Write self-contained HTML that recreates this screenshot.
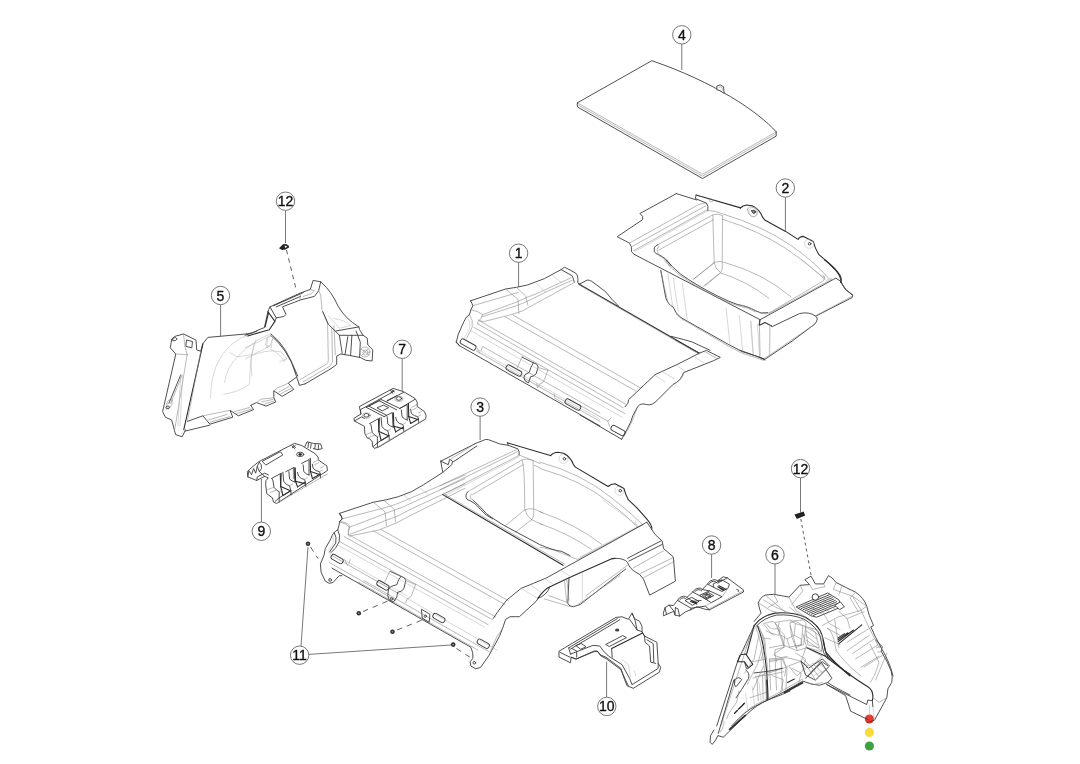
<!DOCTYPE html>
<html><head><meta charset="utf-8"><title>Diagram</title>
<style>
html,body{margin:0;padding:0;background:#fff;}
body{width:1080px;height:764px;overflow:hidden;font-family:"Liberation Sans",sans-serif;}
svg{display:block;}
.o{fill:none;stroke:#3c3c3c;stroke-width:0.9;stroke-linejoin:round;stroke-linecap:round;}
.of{fill:#fff;stroke:#3c3c3c;stroke-width:0.9;stroke-linejoin:round;stroke-linecap:round;}
.k{fill:none;stroke:#2c2c2c;stroke-width:1.1;stroke-linejoin:round;stroke-linecap:round;}
.i{fill:none;stroke:#8a8a8a;stroke-width:0.6;stroke-linejoin:round;stroke-linecap:round;}
.j{fill:none;stroke:#b0b0b0;stroke-width:0.5;stroke-linejoin:round;stroke-linecap:round;}
.b{fill:#222;stroke:#222;stroke-width:0.6;stroke-linejoin:round;}
.ld{fill:none;stroke:#555;stroke-width:0.8;}
.ds{fill:none;stroke:#444;stroke-width:0.85;stroke-dasharray:5.5 5;}
.lc{fill:#fff;stroke:#555;stroke-width:0.8;}
text{font-family:"Liberation Sans",sans-serif;font-size:14px;fill:#111;stroke:#111;stroke-width:0.35;text-anchor:middle;}
.tg{filter:url(#gs);}
</style></head><body>
<svg width="1080" height="764" viewBox="0 0 1080 764">
<defs><filter id="gs" x="-20%" y="-20%" width="140%" height="140%" color-interpolation-filters="sRGB"><feColorMatrix type="saturate" values="0"/></filter></defs>
<rect width="1080" height="764" fill="#fff"/>
<g>
<circle cx="869.4" cy="719" r="4.6" fill="#e8392f"/><circle cx="869.4" cy="732.4" r="4.6" fill="#f7dc3a"/><circle cx="869.4" cy="746" r="4.6" fill="#3fa142"/>
<path class="o" d="M 577.4 102.8 L 651.8 60.7 C 713.5 81.7 758.5 111.8 776.2 131.8"/>
<path class="i" d="M 577.4 102.8 L 702.5 174.2 L 776.2 131.8"/>
<path class="o" d="M 577.4 102.8 Q 576.7 105.1 577.7 107.1 L 702.5 178.5 L 776.2 136.1 L 776.2 131.8"/>
<path class="i" d="M 577.7 104.8 L 702.5 176.2 L 775.9 133.8"/>
<path class="of" d="M 716.8 89.4 L 716.8 86.1 Q 720.2 83.4 723.5 86.7 L 724.2 93.4 L 720.2 90.8 Z"/>
<path class="i" d="M 718.8 87.4 Q 720.5 86.1 722.2 87.7 L 722.2 90.1"/>
<path class="o" d="M 676.4 193.6 L 639.9 213.5 Q 644.0 216.2 642.6 219.7 L 617.2 236.7 L 629.4 243.1 Q 632.2 246.1 631.5 251.7 L 634.3 254.4"/>
<path class="o" d="M 676.4 193.6 L 696.8 200.0"/>
<path class="k" d="M 696.1 195.0 L 740.6 207.9"/>
<path class="o" d="M 696.1 195.0 L 695.4 198.6 L 706.5 203.1 Q 708.6 205.8 707.9 210.7"/>
<path class="i" d="M 629.4 243.1 L 698.9 204.4 L 705.8 203.1"/>
<path class="i" d="M 631.5 246.8 L 705.8 205.8"/>
<path class="i" d="M 633.9 250.6 L 707.2 209.7"/>
<path class="j" d="M 634.7 251.7 L 707.6 210.8"/>
<path class="i" d="M 657.9 244.7 L 712.8 214.9 Q 716.9 212.8 722.5 215.6"/>
<path class="i" d="M 658.9 250.0 L 713.5 219.7"/>
<path class="o" d="M 657.9 244.7 Q 653.1 246.1 654.4 251.7 Q 655.8 254.4 658.6 254.4 Q 665.6 257.2 671.1 265.6"/>
<path class="i" d="M 658.6 246.1 Q 655.8 248.9 657.9 253.1"/>
<path class="i" d="M 658.6 255.6 Q 665.6 258.6 669.7 266.2"/>
<path class="i" d="M 712.8 214.9 L 714.2 262.8 Q 715.6 269.7 720.4 272.5"/>
<path class="i" d="M 722.5 216.2 L 722.2 268.3 Q 721.8 271.8 720.4 272.5"/>
<path class="i" d="M 714.2 262.8 L 693.3 279.4"/>
<path class="i" d="M 720.4 272.8 L 703.1 286.4"/>
<path class="i" d="M 709.3 198.9 Q 711.4 198.2 713.5 200.3 Q 712.8 202.4 710.7 201.9 Z"/>
<path class="i" d="M 747.5 209.3 Q 748.9 205.8 753.1 207.2 Q 757.2 210.0 756.9 214.9 Q 754.4 218.3 751.0 216.2 Q 748.2 213.5 747.5 209.3 Z"/>
<path class="o" d="M 751.7 210.7 Q 753.8 209.3 755.6 211.4 Q 755.1 213.5 753.1 213.2 Q 751.7 212.4 751.7 210.7 Z"/>
<path class="k" d="M 740.4 208.2 Q 742.5 205.4 746.7 205.0 L 752.2 205.8 Q 759.2 208.9 762.6 217.2 L 764.7 220.0 L 785.6 231.4 L 798.1 239.4 Q 799.4 236.7 803.6 236.4 L 813.3 241.5 Q 814.7 247.8 818.9 254.7 L 827.2 261.7 L 835.6 270.0 Q 841.1 276.9 841.1 282.5"/>
<path class="o" d="M 841.1 282.5 L 845.3 289.4 L 852.9 295.0"/>
<path class="j" d="M 825.8 274.2 Q 823.1 278.3 825.8 280.4 L 831.4 278.3"/>
<circle class="j" cx="753.4" cy="211.9" r="4.6"/><circle class="o" cx="754" cy="212" r="1.3"/>
<circle class="j" cx="809.2" cy="243.7" r="4.6"/><circle class="o" cx="809.6" cy="243.8" r="1.3"/>
<path class="o" d="M 634.3 254.4 L 760.1 319.7 L 759.4 325.3 L 765.0 322.5 L 771.9 326.4"/>
<path class="o" d="M 666.4 260.0 Q 671.9 266.9 680.3 273.9 Q 695.6 285.0 717.8 296.1 Q 728.9 301.7 737.2 304.4 Q 748.3 306.5 755.3 310.7 Q 760.8 314.2 767.8 312.8"/>
<path class="i" d="M 665.0 261.1 Q 671.2 268.3 679.6 275.0 Q 695.6 286.4 717.8 297.5 Q 728.9 302.8 737.2 305.6 Q 748.3 307.6 755.3 311.8"/>
<path class="o" d="M 660.8 270.4 L 665.7 297.5 Q 667.8 304.4 673.3 307.2 L 676.1 312.8 Q 680.3 318.3 687.2 321.1 L 728.9 344.7 Q 742.8 353.1 755.3 355.8 L 764.3 359.3"/>
<path class="i" d="M 676.1 314.2 Q 681.7 320.0 688.6 322.8 L 728.9 346.4 Q 742.8 354.7 755.3 357.5 L 763.6 360.4"/>
<path class="i" d="M 660.8 270.4 Q 663.6 285.0 667.8 301.7"/>
<path class="j" d="M 667.8 273.9 L 672.6 305.8"/>
<path class="j" d="M 673.3 278.1 L 678.2 311.4"/>
<path class="j" d="M 682.4 283.6 L 687.2 319.7"/>
<path class="j" d="M 726.1 307.9 L 730.0 345.0"/>
<path class="j" d="M 739.3 315.6 L 742.8 352.4"/>
<path class="j" d="M 750.4 321.1 L 753.2 355.1"/>
<path class="j" d="M 757.4 324.6 L 759.7 357.2"/>
<path class="j" d="M 769.9 325.3 L 769.2 355.8"/>
<path class="o" d="M 760.1 319.7 L 835.8 278.1 L 840.0 280.8 Q 842.8 285.0 845.6 289.2 L 852.5 295.4 L 852.2 297.5 L 815.7 316.2 Q 809.4 311.4 799.7 313.5 L 772.6 326.4 L 765.0 322.5 L 759.4 325.3 Z"/>
<path class="i" d="M 851.9 296.4 L 816.4 315.3"/>
<path class="i" d="M 769.2 313.5 L 831.7 279.2"/>
<path class="k" d="M 824.7 260.0 Q 834.4 266.9 840.0 275.3 Q 842.1 279.4 840.7 282.2"/>
<path class="o" d="M 815.7 316.2 Q 819.2 318.3 815.0 323.9 L 792.8 340.6 L 765.0 359.3 L 759.4 357.2"/>
<path class="i" d="M 813.6 325.0 L 765.0 358.2"/>
<path class="i" d="M 759.4 325.3 L 760.1 355.8"/>
<path class="j" d="M 769.9 325.3 L 769.9 355.8"/>
<path class="j" d="M 751.1 321.1 L 753.2 353.1"/>
<path class="o" d="M 740.0 350.3 L 759.4 357.2 L 765.0 360.0"/>
<path class="i" d="M 740.0 305.1 Q 751.1 307.2 758.1 312.1 Q 765.0 315.6 771.9 311.4 L 823.3 280.8 Q 826.1 278.1 823.3 275.3"/>
<path class="j" d="M 801.1 260.0 L 824.7 278.1"/>
<path class="i" d="M 707.8 210.6 Q 716.1 210.6 721.7 213.6 Q 763.3 226.1 791.1 245.6 Q 811.9 259.4 829.3 278.9"/>
<path class="i" d="M 722.4 219.2 Q 757.8 230.3 785.6 248.3 Q 805.0 260.8 824.4 278.9"/>
<path class="i" d="M 714.7 262.2 Q 720.3 260.1 725.8 262.9 Q 763.3 273.3 791.1 296.9"/>
<path class="i" d="M 721.0 273.1 Q 746.7 281.0 768.9 298.3"/>
<path class="i" d="M 714.7 262.2 L 693.9 278.9"/>
<path class="i" d="M 720.3 273.1 L 705.0 285.8"/>
<path class="o" d="M 470.6 300.8 L 505.6 289.0 Q 516.7 287.6 527.8 284.9 Q 544.4 280.0 561.1 269.6 L 564.6 267.2 L 575.7 273.1 Q 578.5 275.8 577.8 282.8 L 579.9 284.2"/>
<path class="o" d="M 470.6 300.8 Q 472.2 303.6 472.9 305.7 L 470.8 309.9 L 469.4 314.7 Q 466.0 316.1 463.9 321.7 L 458.3 334.2 L 456.2 342.5 L 459.7 346.0"/>
<path class="i" d="M 472.9 305.7 L 518.1 292.5"/>
<path class="i" d="M 505.6 289.0 L 518.1 299.4 L 518.8 313.3"/>
<path class="i" d="M 516.7 287.6 L 525.7 296.0 L 527.8 305.0"/>
<path class="i" d="M 470.8 309.9 Q 477.8 310.6 482.6 314.7 L 518.1 301.5 Q 527.8 296.7 536.1 293.9 L 570.8 277.9"/>
<path class="i" d="M 482.6 314.7 Q 481.2 318.9 479.2 320.3 L 483.3 321.7 L 505.6 316.1 L 513.2 314.0 Q 522.2 311.9 530.6 306.4 L 573.6 282.8"/>
<path class="i" d="M 481.9 316.8 L 516.7 305.7 Q 527.8 301.5 547.2 291.4 L 572.2 280.3"/>
<path class="i" d="M 479.2 320.3 Q 476.4 321.7 477.8 324.4"/>
<path class="o" d="M 561.1 269.6 L 572.2 275.8 Q 573.6 279.3 574.3 282.1"/>
<path class="j" d="M 536.1 282.8 L 545.8 292.5"/>
<path class="j" d="M 552.8 275.8 L 561.1 282.1"/>
<path class="i" d="M 469.4 314.7 Q 473.6 320.3 472.2 327.2 Q 469.4 332.8 466.7 338.3"/>
<path class="j" d="M 467.4 317.5 Q 470.8 321.7 469.4 328.6 L 463.9 338.3"/>
<path class="k" d="M 578.8 283.9 L 698.9 353.0"/>
<path class="i" d="M 579.4 285.1 L 698.2 353.7"/>
<path class="o" d="M 579.4 284.2 L 587.1 280.1 Q 589.2 279.8 591.9 281.4 L 605.8 291.9 Q 611.4 299.5 618.3 305.8"/>
<path class="o" d="M 671.1 336.3 Q 685.0 339.8 691.9 341.9 L 710.0 350.2"/>
<path class="o" d="M 675.8 340.0 L 699.4 353.2 L 706.4 350.4 L 720.3 357.4 L 713.3 360.8 L 683.5 372.6 Q 681.4 380.3 673.1 384.4 L 657.8 399.7 Q 652.2 406.0 646.7 404.6 Q 641.1 402.5 637.6 406.7 L 632.8 415.7 Q 631.4 421.9 627.2 428.9 L 621.7 439.3"/>
<path class="o" d="M 699.4 353.2 Q 677.2 365.0 655.0 374.7 L 628.6 399.7 L 627.9 403.2 L 625.1 406.7"/>
<path class="i" d="M 705.0 351.8 L 716.8 358.3"/>
<path class="j" d="M 655.0 375.4 L 664.7 381.7"/>
<path class="j" d="M 661.9 371.2 L 674.4 378.9"/>
<path class="j" d="M 677.2 365.7 L 685.6 371.9"/>
<path class="j" d="M 695.3 357.4 L 703.6 362.9"/>
<path class="i" d="M 673.1 384.4 Q 680.0 381.7 683.5 374.7"/>
<path class="i" d="M 637.6 406.7 Q 635.6 412.2 633.5 417.8 Q 630.0 426.1 624.4 435.8"/>
<path class="i" d="M 580.0 405.3 L 607.8 421.2 L 609.9 426.8"/>
<path class="i" d="M 607.8 421.2 L 611.2 417.8"/>
<path class="o" d="M 456.2 341.9 L 459.7 345.8 L 600.0 426.0"/>
<path class="i" d="M 476.4 351.0 L 600.0 421.4"/>
<path class="j" d="M 477.8 349.6 L 600.0 419.3"/>
<path class="i" d="M 483.3 346.8 L 600.0 413.1"/>
<path class="o" d="M 580.0 415.0 L 621.7 439.3"/>
<rect class="o" x="-8.5" y="-2.7" width="17" height="5.4" rx="2.3" transform="translate(468.1,344.6) rotate(29)"/>
<rect class="o" x="-8.5" y="-2.7" width="17" height="5.4" rx="2.3" transform="translate(513.9,370.6) rotate(29)"/>
<rect class="o" x="-8.5" y="-2.7" width="17" height="5.4" rx="2.3" transform="translate(572.9,404.6) rotate(29)"/>
<rect class="o" x="-7.5" y="-2.7" width="15" height="5.4" rx="2.3" transform="translate(618,430.5) rotate(29)"/>
<path class="i" d="M 522.2 356.5 L 517.4 367.6"/>
<path class="o" d="M 522.2 357.2 L 533.3 362.8 Q 537.5 363.5 538.2 366.9 L 536.1 373.9 Q 533.3 376.7 530.6 376.7 L 528.5 382.9 L 525.0 380.8 Q 522.9 376.7 525.0 374.6 L 529.2 372.5 Q 530.6 366.9 533.3 362.8"/>
<path class="i" d="M 547.9 370.4 L 543.8 380.8 Q 543.1 383.6 540.3 383.6 L 537.5 387.8 L 536.8 383.6"/>
<path class="i" d="M 538.2 367.6 L 547.9 370.4"/>
<path class="i" d="M 477.1 348.2 L 479.9 353.1 M 482.6 346.8 L 481.2 350.3"/>
<path class="i" d="M 554.2 394.0 L 554.9 398.2 L 563.2 403.1"/>
<path class="i" d="M 512.9 315.0 L 640.0 387.6"/>
<path class="i" d="M 505.3 316.9 L 635.8 391.1"/>
<path class="i" d="M 478.0 320.0 L 626.1 404.3"/>
<path class="i" d="M 478.0 324.0 L 623.3 407.8"/>
<path class="i" d="M 474.0 327.4 L 625.0 413.7"/>
<path class="j" d="M 470.0 330.3 L 622.0 417.2"/>
<path class="o" d="M 171.7 339.4 Q 173.1 336.0 180.0 335.0 L 183.5 333.9 L 196.0 340.1 L 196.7 349.9 L 200.8 351.2 L 202.9 343.6 L 207.8 337.4 L 246.7 333.9"/>
<path class="o" d="M 171.7 339.4 L 170.3 347.8 L 175.8 354.0 L 162.6 411.7 L 165.4 417.2 L 171.7 420.0 L 175.6 434.6 L 182.2 436.8 L 185.6 429.7"/>
<path class="o" d="M 186.9 340.1 L 192.5 341.5 L 191.8 347.8 L 186.2 346.4 Z"/>
<path class="i" d="M 183.5 333.9 L 184.9 346.4 L 187.2 354.7"/>
<path class="i" d="M 175.8 354.0 L 187.2 354.7"/>
<path class="k" d="M 202.9 343.9 L 183.8 429.7"/>
<path class="i" d="M 200.8 351.2 L 187.6 420.0"/>
<path class="i" d="M 187.2 354.7 L 174.4 431.1"/>
<path class="o" d="M 180.7 374.9 L 168.9 403.3"/>
<path class="i" d="M 182.1 375.3 L 170.6 403.3"/>
<path class="j" d="M 180.7 374.9 L 177.9 426.0"/>
<path class="j" d="M 182.8 375.3 L 180.0 426.0"/>
<path class="o" d="M 173.1 338.1 Q 175.8 336.7 177.2 338.8 Q 175.8 341.5 173.1 340.8 Z"/>
<path class="i" d="M 166.8 403.3 Q 168.9 397.8 172.4 399.9 Q 173.1 404.7 168.9 408.9 Q 166.1 408.9 166.8 403.3"/>
<path class="o" d="M 166.1 406.8 Q 168.2 404.7 169.6 406.8 Q 168.9 409.6 166.8 408.9 Z"/>
<path class="o" d="M 185.1 431.1 L 209.9 425.1"/>
<path class="o" d="M 187.4 421.4 L 202.9 415.8 L 209.9 424.2 L 232.8 417.2 L 230.0 410.3 L 238.3 415.8 L 253.6 409.6 L 250.8 405.4"/>
<path class="i" d="M 202.9 415.8 L 209.9 414.4 L 230.0 410.3"/>
<path class="i" d="M 208.5 420.0 L 227.2 414.4 M 210.6 422.1 L 230.0 416.5 M 234.2 411.7 L 249.4 407.5 M 236.2 413.8 L 251.5 408.9"/>
<path class="o" d="M 250.8 405.4 L 256.4 402.6 L 266.1 406.1 L 275.8 401.9 L 273.8 397.8 L 273.8 390.8 L 282.1 396.4 L 293.9 389.4 L 288.3 383.2 L 296.7 376.9"/>
<path class="i" d="M 256.4 402.6 L 260.6 399.2 L 273.8 397.8 M 273.8 390.8 L 277.2 388.1 L 288.3 383.2"/>
<path class="i" d="M 261.9 401.9 L 273.1 399.4 M 264.7 404.0 L 274.4 400.8 M 278.6 392.2 L 289.0 386.4 M 280.0 394.3 L 291.1 388.3"/>
<path class="o" d="M 295.3 372.8 L 299.4 385.3 L 305.0 383.9"/>
<path class="i" d="M 296.7 376.9 L 300.1 386.0"/>
<path class="o" d="M 271.0 333.9 Q 288.3 347.8 295.3 372.8"/>
<path class="j" d="M 210.6 397.8 Q 210.6 361.7 232.8 343.6 Q 241.1 336.7 248.1 335.3"/>
<path class="j" d="M 224.4 382.5 Q 227.2 365.8 238.3 356.1 Q 252.2 340.8 270.3 333.9"/>
<path class="j" d="M 223.8 394.3 Q 238.3 392.2 249.4 384.6 L 250.8 358.9 L 255.0 342.9"/>
<path class="j" d="M 230.0 352.6 L 236.9 356.8 L 252.2 354.7 Q 263.3 350.6 270.3 345.0"/>
<path class="j" d="M 267.5 338.1 L 266.8 347.8 L 270.3 345.0 L 272.4 339.4"/>
<path class="j" d="M 270.3 349.2 Q 280.0 353.3 284.2 361.7 L 287.6 357.5"/>
<path class="o" d="M 245.0 335.3 Q 251.9 333.9 258.9 329.7 L 264.4 327.6 L 267.9 311.7 L 270.0 306.8 L 300.6 292.9 L 310.3 289.4 L 313.1 280.4 L 320.7 281.8 L 322.1 283.2 Q 331.1 290.8 338.1 306.1 Q 345.0 318.6 358.9 326.9 L 359.6 329.7 L 363.1 335.3 L 367.2 338.1 L 367.9 345.0 L 372.8 349.9 L 372.1 361.0 L 365.8 360.3 L 360.3 357.5 L 349.2 355.4 L 340.8 354.0 L 336.7 356.1 L 336.7 364.4 L 331.1 368.6 L 305.0 383.9"/>
<path class="o" d="M 246.7 333.9 L 252.2 332.8 L 256.8 331.1"/>
<path class="k" d="M 247.8 336.0 Q 258.9 332.5 269.3 329.7 L 274.9 321.4 L 267.9 311.7"/>
<path class="o" d="M 270.0 306.8 L 276.2 317.9 L 283.9 316.5 L 286.0 314.4 L 282.5 306.8 L 300.6 299.9 L 314.4 296.4 L 318.6 290.8 L 320.7 281.8"/>
<path class="o" d="M 276.2 317.9 L 274.9 321.4"/>
<path class="o" d="M 273.5 305.8 L 303.3 292.6 M 276.2 306.9 L 300.6 296.4"/>
<path class="i" d="M 300.6 292.9 L 299.9 299.9 M 310.3 289.4 L 314.4 290.8 L 311.7 293.6 L 303.3 296.4"/>
<path class="k" d="M 265.1 326.9 L 268.6 312.4"/>
<path class="i" d="M 318.6 290.8 L 320.7 295.0 L 322.1 310.3 L 327.6 323.5 L 328.3 360.3 Q 328.3 363.1 326.2 364.4 L 299.9 379.7"/>
<path class="i" d="M 331.8 328.3 L 332.5 361.7 L 330.4 365.8 L 303.3 381.8"/>
<path class="i" d="M 333.9 325.6 L 335.3 354.7"/>
<path class="o" d="M 322.8 311.7 L 328.3 324.2 L 335.3 331.1 L 358.9 326.9"/>
<path class="o" d="M 335.3 331.1 L 339.4 335.3 L 363.1 335.3"/>
<path class="o" d="M 339.4 335.3 L 342.2 353.3 M 347.8 336.7 L 345.0 354.7 M 351.9 335.3 L 350.6 355.4"/>
<path class="j" d="M 328.3 315.8 L 339.4 328.3 L 350.6 325.6 Q 345.0 320.0 333.9 318.6"/>
<path class="o" d="M 356.1 331.1 L 360.3 342.2 L 359.6 357.5"/>
<circle class="i" cx="365" cy="352" r="5"/><circle class="i" cx="365.5" cy="352.5" r="2.6"/><path class="i" d="M361,349 L369,355 M362,355 L368,349"/>
<path class="o" d="M 270.7 335.3 Q 286.7 347.8 297.8 376.0"/>
<path class="j" d="M 267.2 338.1 L 272.8 335.3 L 271.4 347.8 L 265.8 345.0 Z"/>
<path class="j" d="M 245.0 347.8 Q 258.9 342.2 270.7 335.3 M 245.0 358.9 Q 265.8 347.8 281.1 351.9 L 286.7 358.9 L 279.7 361.7"/>
<path class="j" d="M 251.9 376.0 Q 249.2 353.3 256.1 339.4"/>
<path class="o" d="M 359.7 406.4 L 393.1 388.4 L 403.6 391.7 L 415.1 398.5 L 417.2 402.2 L 417.2 406.4 L 424.5 411.6 L 426.1 415.8 L 425.6 419.0 L 378.5 447.2 L 374.3 448.3 L 372.4 446.2 L 372.4 442.0 Q 370.1 437.8 367.0 437.8 L 364.9 433.6 L 364.4 426.3 L 354.4 421.0 L 353.9 418.4 L 360.7 414.2 Z"/>
<path class="o" d="M 360.7 414.2 L 360.7 409.5 L 394.2 391.2"/>
<path class="o" d="M 386.9 401.2 L 403.6 392.3"/>
<path class="o" d="M 390.5 390.2 L 392.6 393.3 M 391.6 389.7 L 394.2 391.7 M 391.0 392.3 L 393.7 390.5"/>
<path class="o" d="M 354.4 421.0 L 361.7 416.9 L 364.4 418.4"/>
<path class="o" d="M 366.2 407.3 L 384.1 416.6 M 368.8 406.2 L 386.3 415.1"/>
<path class="o" d="M 381.1 399.5 L 399.8 408.4 M 379.6 401.0 L 396.8 409.9"/>
<path class="o" d="M 366.2 407.3 L 379.6 400.6 M 368.8 406.2 L 381.1 399.5"/>
<path class="o" d="M 377.4 407.7 L 383.4 405.1 L 388.6 407.7 L 382.6 410.7 Z"/>
<path class="o" d="M 387.1 400.6 L 396.8 395.7 M 399.8 408.4 L 408.7 403.2 L 414.7 399.5"/>
<ellipse class="o" cx="366.5" cy="415.3" rx="2.6" ry="1.8"/><ellipse class="i" cx="366.5" cy="415.6" rx="4" ry="2.8"/>
<ellipse class="o" cx="398.9" cy="398.5" rx="2.6" ry="1.8"/><ellipse class="i" cx="398.9" cy="398.8" rx="4" ry="2.8"/>
<path class="o" d="M 369.9 423.4 L 379.6 418.1 L 378.9 431.6"/>
<path class="o" d="M 369.9 423.4 L 371.0 424.9 L 372.2 432.3 Q 374.4 435.3 377.4 436.8 L 377.4 442.8"/>
<path class="k" d="M 378.5 419.6 L 378.9 431.6 L 381.1 440.5"/>
<path class="k" d="M 378.9 431.6 L 388.6 435.7 M 381.1 440.5 L 389.0 435.7"/>
<path class="o" d="M 381.1 417.4 L 381.9 426.3 Q 384.1 430.1 387.8 430.8 L 389.0 435.7"/>
<path class="o" d="M 384.1 416.6 L 392.3 412.5 L 393.1 427.1"/>
<path class="o" d="M 387.1 416.6 L 387.8 424.1 Q 390.1 426.3 393.1 427.1"/>
<path class="k" d="M 393.4 412.9 L 393.8 426.3 L 395.7 431.9"/>
<path class="k" d="M 393.8 426.3 L 402.8 428.6 M 395.7 431.9 L 403.5 427.1"/>
<path class="o" d="M 395.7 417.4 L 396.8 421.1 Q 399.0 424.1 402.8 424.5 L 403.5 427.1"/>
<path class="o" d="M 399.8 408.4 L 407.2 404.7 L 407.2 420.0"/>
<path class="o" d="M 401.3 409.9 L 402.0 416.6 Q 404.3 419.6 407.2 420.0"/>
<path class="k" d="M 408.4 403.2 L 408.7 416.6 L 410.6 423.4"/>
<path class="k" d="M 408.7 416.6 L 417.7 419.6 M 410.6 423.4 L 418.4 418.9"/>
<path class="o" d="M 410.6 409.2 L 411.3 413.3 Q 414.0 416.3 417.7 416.6 L 418.4 418.9"/>
<path class="o" d="M 373.3 446.5 L 377.4 442.8 L 377.4 447.2"/>
<path class="o" d="M 377.4 442.8 L 389.0 435.7 M 389.0 435.7 L 389.3 439.8 M 403.5 427.1 L 403.9 431.6 M 418.4 418.9 L 418.8 423.0"/>
<path class="i" d="M 377.4 436.8 L 381.1 434.6 M 387.8 430.8 L 390.8 429.0 M 402.8 424.5 L 405.7 422.6 M 417.7 416.6 L 420.7 415.0"/>
<path class="i" d="M 365.4 434.6 L 372.2 432.3 M 368.4 437.5 L 374.4 435.3"/>
<path class="i" d="M 416.9 404.7 L 411.7 407.3 M 416.9 407.7 L 412.5 409.9 M 422.2 411.0 L 418.4 413.3"/>
<path class="i" d="M 377.4 447.2 L 425.5 418.9"/>
<path class="o" d="M 258.8 461.7 L 294.4 443.4 L 301.7 445.5 L 315.3 453.8 L 318.0 457.0 L 318.5 460.1 L 326.9 465.9 L 327.4 470.6 L 276.6 503.5 L 273.5 502.0 L 272.4 497.8 L 266.7 493.6 L 265.6 484.2 Q 265.1 480.0 268.3 477.9 L 264.6 476.3 L 256.7 480.5 L 247.8 476.9 L 247.3 471.6 L 249.4 469.5 Z"/>
<path class="o" d="M 304.9 446.5 L 307.0 441.8 L 313.3 443.4 L 320.6 443.9 L 322.2 448.6 L 318.0 449.7 L 313.3 448.6"/>
<path class="o" d="M 308.5 442.8 L 308.0 447.6 M 311.2 443.9 L 310.6 448.1 M 315.3 444.4 L 314.8 448.6 M 318.5 444.9 L 318.3 448.6"/>
<path class="o" d="M 262.5 461.2 L 280.3 451.7 L 282.9 454.9 L 266.2 464.8 Z"/>
<ellipse class="o" cx="300.2" cy="454.4" rx="3.6" ry="2.2"/><ellipse class="b" cx="300.2" cy="454.4" rx="1.6" ry="1"/>
<path class="o" d="M 247.8 476.9 L 248.9 470.6 L 251.5 474.8 L 253.6 468.5 L 255.7 473.2 L 257.3 466.4 L 259.4 471.6"/>
<path class="o" d="M 259.4 462.2 Q 262.0 464.3 261.5 468.5 L 259.4 471.6 L 264.6 476.3"/>
<path class="o" d="M 257.3 466.4 Q 258.3 463.3 259.4 462.2"/>
<path class="o" d="M 256.7 480.5 L 257.3 476.9 L 264.6 473.2 L 268.3 474.8"/>
<path d="M 292.8 467.4 L 294.9 467.4 L 294.9 479.0 L 292.8 479.0 Z" fill="#aaa" stroke="none"/>
<path class="o" d="M 291.8 446.0 L 294.9 448.6 M 292.8 444.9 L 295.5 447.6 M 292.3 447.8 L 295.3 445.5"/>
<path class="o" d="M 271.7 478.4 L 281.4 473.1 L 280.7 486.6"/>
<path class="o" d="M 271.7 478.4 L 272.8 479.9 L 274.0 487.3 Q 276.2 490.3 279.2 491.8 L 279.2 497.8"/>
<path class="k" d="M 280.3 474.6 L 280.7 486.6 L 282.9 495.5"/>
<path class="k" d="M 280.7 486.6 L 290.4 490.7 M 282.9 495.5 L 290.8 490.7"/>
<path class="o" d="M 282.9 472.4 L 283.7 481.3 Q 285.9 485.1 289.6 485.8 L 290.8 490.7"/>
<path class="o" d="M 285.9 471.6 L 294.1 467.5 L 294.9 482.1"/>
<path class="o" d="M 288.9 471.6 L 289.6 479.1 Q 291.9 481.3 294.9 482.1"/>
<path class="k" d="M 295.2 467.9 L 295.6 481.3 L 297.5 486.9"/>
<path class="k" d="M 295.6 481.3 L 304.6 483.6 M 297.5 486.9 L 305.3 482.1"/>
<path class="o" d="M 297.5 472.4 L 298.6 476.1 Q 300.8 479.1 304.6 479.5 L 305.3 482.1"/>
<path class="o" d="M 301.6 463.4 L 309.0 459.7 L 309.0 475.0"/>
<path class="o" d="M 303.1 464.9 L 303.8 471.6 Q 306.1 474.6 309.0 475.0"/>
<path class="k" d="M 310.2 458.2 L 310.5 471.6 L 312.4 478.4"/>
<path class="k" d="M 310.5 471.6 L 319.5 474.6 M 312.4 478.4 L 320.2 473.9"/>
<path class="o" d="M 312.4 464.2 L 313.1 468.3 Q 315.8 471.3 319.5 471.6 L 320.2 473.9"/>
<path class="o" d="M 275.1 501.5 L 279.2 497.8 L 279.2 502.2"/>
<path class="o" d="M 279.2 497.8 L 290.8 490.7 M 290.8 490.7 L 291.1 494.8 M 305.3 482.1 L 305.7 486.6 M 320.2 473.9 L 320.6 478.0"/>
<path class="i" d="M 279.2 491.8 L 282.9 489.6 M 289.6 485.8 L 292.6 484.0 M 304.6 479.5 L 307.5 477.6 M 319.5 471.6 L 322.5 470.0"/>
<path class="i" d="M 267.2 489.6 L 274.0 487.3 M 270.2 492.5 L 276.2 490.3"/>
<path class="i" d="M 318.7 459.7 L 313.5 462.3 M 318.7 462.7 L 314.3 464.9 M 324.0 466.0 L 320.2 468.3"/>
<path class="i" d="M 279.2 502.2 L 327.3 473.9"/>
<path class="o" d="M 339.7 513.3 L 373.3 502.2 Q 387.2 500.1 398.3 496.7 Q 412.2 492.5 423.3 484.9 L 442.8 472.4 L 440.7 461.2"/>
<path class="o" d="M 440.7 461.2 L 448.3 464.7 L 449.7 459.2 L 452.5 461.2 L 451.8 464.7 L 442.8 472.4"/>
<path class="o" d="M 339.7 513.3 Q 342.1 516.1 342.1 518.9 L 339.3 521.7"/>
<path class="i" d="M 342.1 518.9 L 384.4 507.8 Q 392.8 505.7 401.1 502.2 L 465.0 475.1"/>
<path class="i" d="M 339.3 521.7 Q 345.6 523.1 349.7 527.2 L 385.8 513.3 Q 392.8 510.6 401.1 507.8 L 465.0 478.6"/>
<path class="i" d="M 349.7 527.2 Q 347.6 532.8 349.0 536.2 L 378.9 530.0 Q 398.3 523.1 412.2 514.7 L 465.0 488.3"/>
<path class="i" d="M 350.4 534.2 L 384.4 521.0 Q 398.3 516.8 409.4 509.9 L 465.0 483.9"/>
<path class="i" d="M 373.3 502.2 L 385.1 511.9 L 386.5 525.8"/>
<path class="i" d="M 384.4 500.8 L 394.2 509.2 L 395.6 521.7"/>
<path class="j" d="M 403.9 495.3 L 410.8 500.8 M 419.2 487.6 L 427.5 493.9"/>
<path class="o" d="M 440.7 461.2 L 476.1 443.2 L 485.8 439.4 L 488.6 439.7 L 499.7 443.9 L 508.1 445.3"/>
<path class="o" d="M 453.2 461.9 L 476.8 446.0"/>
<path class="i" d="M 449.7 459.9 L 474.7 443.9"/>
<path class="k" d="M 507.4 442.8 L 551.1 455.7"/>
<path class="o" d="M 507.4 442.8 L 508.1 445.3 L 517.8 448.8 Q 519.9 451.5 519.2 455.0"/>
<path class="i" d="M 440.0 485.6 L 517.1 449.4"/>
<path class="i" d="M 440.0 489.7 L 517.8 451.5"/>
<path class="i" d="M 442.8 494.6 L 518.5 455.7"/>
<path class="j" d="M 444.9 495.6 L 518.9 456.9"/>
<path class="i" d="M 467.8 491.8 L 521.9 459.9 Q 526.1 457.8 533.1 460.6"/>
<path class="i" d="M 472.6 494.6 L 523.3 464.7"/>
<path class="o" d="M 467.8 491.8 Q 464.3 495.3 467.1 499.4 Q 474.7 502.2 480.3 509.2 Q 485.8 516.1 492.8 518.9"/>
<path class="i" d="M 471.2 493.9 Q 469.2 496.7 471.2 499.4"/>
<path class="i" d="M 521.9 459.9 Q 524.7 463.3 524.7 507.8 Q 526.1 516.1 531.7 519.6"/>
<path class="i" d="M 533.1 460.6 L 533.8 513.3 Q 533.1 518.9 531.7 519.6"/>
<path class="i" d="M 524.7 509.9 Q 528.9 507.8 534.4 509.2 L 542.8 512.8"/>
<path class="i" d="M 531.7 519.6 L 542.8 525.0"/>
<path class="i" d="M 524.7 509.9 L 505.3 525.8"/>
<path class="i" d="M 531.7 519.6 L 515.7 532.1"/>
<path class="i" d="M 519.2 455.0 L 533.1 460.6 L 540.0 463.6"/>
<path class="i" d="M 534.4 465.4 L 540.0 467.8"/>
<circle class="j" cx="563.6" cy="458.8" r="4.6"/><circle class="o" cx="564.4" cy="458.8" r="1.3"/>
<circle class="j" cx="619.6" cy="490.6" r="4.6"/><circle class="o" cx="620.3" cy="490.7" r="1.3"/>
<path class="k" d="M 551.1 455.0 Q 553.2 452.5 558.1 452.2 L 563.6 453.2 Q 570.6 456.7 573.3 464.3 L 575.4 467.1 L 608.1 486.5 Q 610.8 483.8 615.0 483.8 L 624.0 488.6 Q 625.4 494.2 628.2 499.7 L 637.2 508.1 L 646.9 519.2 Q 651.8 524.7 651.8 528.9"/>
<path class="i" d="M 540.0 462.2 Q 581.7 473.3 612.2 498.3 Q 630.3 512.2 642.8 524.7"/>
<path class="i" d="M 540.0 468.5 Q 581.7 480.3 609.4 502.5 Q 626.1 515.0 637.2 526.8"/>
<path class="j" d="M 635.8 520.6 Q 633.8 524.7 637.2 526.8 L 642.8 524.7"/>
<path class="o" d="M 646.9 522.2 L 651.1 528.5 L 655.3 534.7 L 662.2 541.0 L 663.6 548.6 L 673.3 556.9 L 675.4 581.2 L 649.7 595.1 L 643.5 579.2 Q 640.0 573.6 635.8 572.2 Q 630.3 569.4 627.5 562.5 Q 624.7 558.3 615.0 558.3"/>
<path class="i" d="M 642.8 524.7 L 577.5 559.4 L 567.8 555.6 Q 553.9 548.6 540.0 547.2"/>
<path class="j" d="M 637.2 526.7 L 580.3 556.9"/>
<path class="o" d="M 627.5 558.3 L 660.8 541.0 M 628.9 561.1 L 662.2 544.4"/>
<path class="i" d="M 633.1 568.1 L 663.6 550.7 M 640.0 573.6 L 673.3 557.6 M 643.5 577.8 L 674.7 561.1"/>
<path class="i" d="M 627.5 565.3 L 585.8 595.8"/>
<path class="i" d="M 540.0 511.8 Q 574.7 523.6 601.8 544.4"/>
<path class="i" d="M 540.0 523.6 Q 567.8 533.3 591.4 549.3"/>
<path class="j" d="M 602.5 500.0 L 637.2 525.0"/>
<path class="k" d="M 442.8 494.6 L 563.1 565.3"/>
<path class="i" d="M 445.1 494.6 L 564.7 564.2"/>
<path class="o" d="M 472.8 500.0 Q 479.7 505.6 486.7 513.9 Q 492.2 518.1 503.3 525.0 L 539.4 544.4 Q 551.9 550.0 561.7 551.4 L 570.0 555.6"/>
<path class="o" d="M 339.4 513.9 Q 341.9 516.7 342.2 518.8 L 339.9 521.5 L 337.8 529.9 Q 332.9 531.9 330.8 538.9 L 325.3 548.6 L 323.9 555.6 L 320.4 563.9 L 321.1 572.2 L 325.3 581.2 Q 329.4 584.7 332.9 582.6 L 339.2 575.7 L 341.9 575.7"/>
<path class="i" d="M 339.9 521.5 Q 346.8 522.2 349.6 525.7 Q 347.5 530.6 348.2 534.0"/>
<path class="o" d="M 337.8 529.9 Q 340.6 534.7 339.2 541.7 Q 336.4 548.6 330.8 552.8"/>
<path class="o" d="M 334.3 532.6 Q 337.1 537.5 335.7 543.1 L 329.4 552.1"/>
<path class="j" d="M 332.9 536.1 Q 334.3 540.3 332.9 544.4 L 328.1 550.7"/>
<circle class="o" cx="330.1" cy="579.9" r="1.4"/>
<path class="i" d="M 330.8 554.9 L 398.9 593.8"/>
<path class="j" d="M 332.9 553.5 L 407.2 595.8"/>
<path class="i" d="M 329.4 562.5 L 396.1 600.7"/>
<path class="o" d="M 331.9 568.1 L 470.8 647.2 Q 473.6 652.8 472.9 658.3 L 470.1 661.8 L 470.8 666.0 L 475.7 668.8 L 480.6 667.4 L 488.9 655.6 L 495.8 643.1 Q 500.0 636.1 502.8 627.8 L 505.6 619.4 Q 509.7 615.3 515.3 616.7 L 519.4 616.7 L 536.1 601.4 L 538.9 597.2"/>
<path class="i" d="M 358.3 581.9 L 477.8 650.0"/>
<path class="i" d="M 363.9 580.6 L 488.9 651.7"/>
<path class="j" d="M 372.2 578.5 L 497.2 650.0"/>
<path class="i" d="M 488.9 655.6 Q 493.1 644.4 497.2 636.1 Q 501.4 630.6 502.8 627.8"/>
<path class="o" d="M 421.5 609.7 L 422.2 618.1 L 429.2 622.2 L 429.9 614.6 Z"/>
<circle class="o" cx="425.3" cy="616.2" r="1.2"/><circle class="o" cx="474.3" cy="662.8" r="1.3"/>
<rect class="o" x="-6.5" y="-2.6" width="13" height="5.2" rx="2.2" transform="translate(337.1,559) rotate(30)"/>
<rect class="o" x="-6.5" y="-2.6" width="13" height="5.2" rx="2.2" transform="translate(382.9,585.4) rotate(30)"/>
<rect class="o" x="-6.5" y="-2.6" width="13" height="5.2" rx="2.2" transform="translate(438.9,618) rotate(30)"/>
<rect class="o" x="-6.5" y="-2.6" width="13" height="5.2" rx="2.2" transform="translate(483.3,643.7) rotate(30)"/>
<path class="i" d="M 389.9 570.8 L 385.0 581.9"/>
<path class="o" d="M 390.6 571.5 L 401.0 576.4 Q 405.1 577.1 405.8 580.6 L 403.8 588.9 Q 401.7 591.7 397.5 592.4 L 396.8 597.2 L 393.3 602.1 L 389.2 600.0 L 387.8 595.8 L 388.5 588.9 L 391.9 586.1 L 396.8 584.7 Q 398.2 579.2 401.0 576.4"/>
<path class="i" d="M 415.6 584.7 L 411.4 595.8 Q 410.0 598.6 407.2 598.6 L 405.8 602.8"/>
<path class="i" d="M 405.8 580.6 L 415.6 584.7"/>
<circle class="o" cx="391.7" cy="598.9" r="1.2"/>
<path class="i" d="M 344.7 559.7 L 347.5 565.3 M 350.3 559.7 L 348.9 563.2"/>
<path class="i" d="M 380.8 529.4 L 508.3 600.7"/>
<path class="i" d="M 373.2 530.8 L 504.8 604.5"/>
<path class="i" d="M 348.2 534.4 L 495.5 616.9"/>
<path class="i" d="M 344.0 536.5 L 493.0 620.0"/>
<path class="i" d="M 339.9 541.7 L 488.0 624.6"/>
<path class="j" d="M 338.0 545.0 L 484.0 626.8"/>
<path class="o" d="M 663.4 612.9 L 665.0 607.7 L 669.1 605.1 L 673.3 605.6 L 677.5 600.4 Q 679.1 596.7 683.3 596.2 Q 685.9 596.2 686.9 597.4 L 692.7 592.0 Q 694.8 588.3 699.0 588.0 Q 701.1 588.0 702.3 589.5 L 707.4 584.1 Q 709.5 580.0 714.2 579.6 Q 716.3 579.6 717.6 580.9 L 723.1 576.8 L 727.3 577.9 L 743.5 589.9 L 743.5 592.0 L 709.5 609.8 L 705.3 609.3 L 696.9 606.7 L 690.6 609.8 L 685.4 611.9 L 679.6 616.1 L 674.9 615.0 L 674.4 611.9 L 672.3 611.9 L 666.5 614.5 L 663.9 615.6 Z"/>
<path class="o" d="M 677.5 600.4 L 691.1 608.2"/>
<path class="o" d="M 679.6 599.9 Q 681.2 597.8 683.8 597.8 Q 685.9 598.1 686.4 599.3 M 694.8 591.5 Q 696.4 589.7 699.0 589.6 Q 701.1 589.9 701.8 590.9 M 709.5 583.4 Q 711.0 581.3 713.9 581.2 Q 716.0 581.5 716.8 582.6"/>
<path class="o" d="M 700.0 595.1 L 709.5 590.9 L 722.0 596.7 L 711.6 602.5 Z"/>
<path class="o" d="M 702.7 595.1 L 708.4 592.5 L 713.7 595.7 L 707.4 598.8 Z"/>
<ellipse class="o" cx="707.6" cy="595.8" rx="2.6" ry="1.9"/>
<path class="o" d="M 713.7 583.6 L 722.0 580.0 L 729.4 584.1 L 728.3 587.8 L 722.0 591.5 L 713.7 587.3 Z"/>
<path class="o" d="M 686.9 597.4 L 692.7 601.4 L 701.1 600.4 M 702.3 589.5 L 709.5 590.9 M 717.6 580.9 L 722.0 580.0"/>
<path class="o" d="M 685.4 600.4 L 691.7 597.4 L 699.0 601.4 L 692.7 605.1 Z"/>
<path class="o" d="M 692.7 592.0 L 707.4 599.9 M 707.4 584.1 L 713.7 587.3"/>
<path class="o" d="M 727.3 577.9 L 717.8 583.1"/>
<path class="i" d="M 709.5 608.8 L 743.0 590.9"/>
<path class="o" d="M 669.1 605.1 L 674.4 611.9 M 675.4 607.7 L 678.0 608.8 L 679.6 616.1 M 675.4 607.7 L 674.9 615.0 M 665.0 607.7 L 666.5 614.5"/>
<path class="k" d="M 717.8 586.8 L 724.1 589.9 M 718.9 585.7 L 726.2 589.4 M 719.9 588.3 L 723.1 590.4"/>
<path class="k" d="M 690.6 601.4 L 696.9 604.0 M 691.7 600.4 L 696.4 602.7"/>
<path class="o" d="M 704.8 594.6 L 710.5 597.4 M 706.3 593.9 L 711.6 596.4"/>
<path class="o" d="M 736.7 589.4 L 738.8 590.4 L 738.3 591.5"/>
<path class="o" d="M 690.6 609.8 L 691.1 608.2 L 705.3 606.1 L 709.5 609.8"/>
<path class="i" d="M 722.0 596.7 L 728.3 587.8 M 711.6 602.5 L 705.3 606.1"/>
<path class="o" d="M 559.3 651.0 L 615.9 617.4 L 622.1 616.8 L 628.3 619.3 L 632.1 613.1 L 634.6 618.7 L 639.5 621.2 Q 643.3 626.1 642.0 631.7 L 644.5 636.1 L 656.9 642.3 L 658.2 663.4 L 660.7 667.2 L 659.4 672.2 L 633.3 688.3 L 627.1 685.8 L 624.6 679.6 L 620.9 668.4 L 606.0 657.2 L 599.7 654.7 L 597.3 651.0 L 594.1 651.0 L 576.1 659.1 L 571.1 657.2 L 570.5 662.8 L 559.3 657.2 Z"/>
<path class="o" d="M 571.1 657.2 L 576.1 659.1 L 594.1 651.6 L 597.9 651.6 Q 599.7 653.5 601.0 656.0 L 606.0 658.5 L 620.9 669.7 L 625.9 680.9 L 628.3 685.8"/>
<path class="o" d="M 570.5 654.1 L 592.9 645.4 L 599.7 646.0 L 603.5 651.0 L 608.4 656.0 L 622.1 664.7 L 629.6 678.4 L 632.1 684.6"/>
<path class="o" d="M 568.7 647.9 L 617.2 618.7 M 570.5 649.1 L 619.6 619.9"/>
<path class="k" d="M 611.6 648.5 L 642.6 633.0"/>
<path class="o" d="M 611.6 648.5 L 612.2 657.2"/>
<path class="o" d="M 606.0 644.3 L 622.7 635.6 L 626.5 637.6 L 609.7 646.3 Z"/>
<path class="o" d="M 576.1 645.4 L 581.1 643.5 L 586.1 646.7 L 581.1 649.1 Z"/>
<path class="o" d="M 571.8 648.5 L 576.7 651.0 L 576.7 657.2 M 568.7 647.9 L 570.5 654.1"/>
<ellipse cx="617.2" cy="630" rx="2.2" ry="1.5" fill="#444"/>
<path class="o" d="M 644.5 636.1 L 645.1 642.3 L 649.5 646.0 L 650.7 662.2 L 655.7 663.4"/>
<path class="o" d="M 647.0 639.8 L 653.2 643.5 L 653.8 662.2"/>
<path class="o" d="M 642.6 633.0 L 644.5 636.1"/>
<path class="o" d="M 632.1 684.6 L 658.2 668.4 L 658.2 663.4"/>
<path class="o" d="M 629.6 619.3 L 637.0 629.9 M 632.1 613.1 Q 635.8 619.9 637.0 629.9 L 642.0 631.7"/>
<path class="j" d="M 622.1 659.7 L 628.3 664.7 L 630.8 677.1 M 634.6 670.9 L 635.8 675.9"/>
<path class="o" d="M 559.9 652.3 L 569.9 657.2"/>
<path class="o" d="M 754.2 621.4 L 761.1 613.1 Q 759.7 610.3 758.3 603.3 Q 759.7 597.8 765.3 595.0 L 773.6 594.3 Q 781.9 595.7 788.9 597.1 L 800.0 585.3 L 809.7 584.6 L 804.9 579.7 L 811.1 576.2 L 815.3 583.9 L 823.6 583.9 L 828.5 575.6 Q 831.9 576.9 836.1 582.5 Q 847.2 588.1 855.6 592.2 Q 863.9 597.8 866.7 606.1 L 869.4 615.8 L 873.6 625.6 L 870.8 626.9 Q 875.0 636.7 881.9 649.2 Q 888.9 660.3 893.1 676.0"/>
<path class="o" d="M 875.6 640.0 L 882.3 646.7 L 881.2 651.1 Q 887.9 662.2 891.2 671.1 Q 892.9 676.7 891.8 682.3 L 887.9 688.9 L 886.8 697.8 L 874.5 720.1 L 867.8 722.3"/>
<path class="k" d="M 754.2 625.6 Q 761.1 615.8 775.0 613.1 Q 791.7 611.7 805.6 617.2 Q 819.4 625.6 822.2 635.3 L 825.7 651.9 Q 833.3 661.7 850.0 676.0"/>
<path class="o" d="M 756.2 626.2 Q 763.9 617.9 776.4 615.1 Q 791.7 613.8 804.2 619.3 Q 816.7 626.9 820.1 636.0 L 823.6 652.6 L 827.8 658.9"/>
<path class="k" d="M 823.4 640.0 Q 824.5 651.1 827.8 656.7 L 843.4 670.0 Q 856.7 680.0 867.8 686.7 Q 873.4 690.0 872.9 697.8 L 872.3 700.6"/>
<path class="o" d="M 826.7 684.5 L 845.6 695.6 L 850.6 711.2 L 867.8 719.5"/>
<path class="o" d="M 826.7 684.5 L 866.7 704.5 L 867.8 700.1 L 872.3 700.6 L 872.9 706.7"/>
<path class="i" d="M 872.9 697.8 L 879.0 702.3 L 886.8 697.8"/>
<path class="i" d="M 870.1 682.3 Q 874.5 677.8 879.0 662.2 L 870.1 644.4"/>
<path class="i" d="M 886.8 653.3 L 875.6 680.0"/>
<path class="j" d="M 872.9 706.7 L 874.5 720.1"/>
<path class="j" d="M 869.5 705.6 L 869.5 715.6"/>
<path class="o" d="M 796.5 606.8 L 827.8 592.9 L 838.9 599.9 L 841.7 606.8 L 816.7 617.2 L 811.1 615.8 Z"/>
<path class="o" d="M 799.2 607.5 L 829.4 594.7"/>
<path class="o" d="M 801.2 608.6 L 831.0 596.1"/>
<path class="o" d="M 803.2 609.7 L 832.4 597.6"/>
<path class="o" d="M 805.3 610.8 L 833.8 599.0"/>
<path class="o" d="M 807.2 612.1 L 835.3 600.4"/>
<path class="o" d="M 809.3 613.2 L 836.7 601.8"/>
<path class="o" d="M 811.2 614.3 L 838.1 603.3"/>
<path class="o" d="M 813.3 615.4 L 839.6 604.7"/>
<path class="i" d="M 805.6 603.3 L 822.2 614.4 M 812.5 599.9 L 829.2 611.7 M 819.4 597.1 L 834.7 608.9"/>
<path d="M 834.7 605.4 L 840.3 601.9 L 844.4 606.8 L 839.6 609.6 Z" fill="#fff" stroke="#2b2b2b" stroke-width="0.8"/>
<circle cx="815.3" cy="597" r="3.2" fill="#fff" stroke="#2b2b2b" stroke-width="0.9"/>
<path class="k" d="M 838.9 643.6 L 861.8 624.9 M 838.3 641.5 L 853.5 630.0 M 838.1 639.7 L 847.9 632.8 M 837.9 638.1 L 844.4 633.6"/>
<path class="i" d="M 788.9 597.1 L 795.8 610.3 L 805.6 617.2"/>
<path class="i" d="M 836.1 582.5 L 833.3 589.4 L 852.8 596.4 L 866.7 606.1"/>
<path class="i" d="M 852.8 596.4 L 861.1 610.3 L 869.4 628.3 L 879.2 647.8"/>
<path class="i" d="M 827.8 628.3 Q 833.3 631.1 836.1 650.6 Q 847.2 665.8 861.1 676.0"/>
<path class="i" d="M 822.2 625.6 L 837.5 617.2 L 861.1 610.3"/>
<path class="i" d="M 847.2 650.6 L 869.4 635.3 M 855.6 658.9 L 877.8 645.0 M 863.9 667.2 L 883.3 654.7"/>
<path class="i" d="M 765.3 595.0 L 784.7 611.7 M 773.6 594.3 L 777.8 601.9 L 768.1 607.5"/>
<path class="i" d="M 800.0 585.3 L 802.8 590.8 L 791.7 604.7 M 809.7 584.6 L 812.5 589.4 L 825.0 586.7 L 823.6 583.9"/>
<path class="i" d="M 876.4 647.8 Q 880.6 645.0 881.9 649.2 Q 881.2 653.3 877.8 651.9"/>
<path class="i" d="M 758.3 625.6 Q 765.3 635.3 768.1 676.0"/>
<path class="i" d="M 766.7 624.2 Q 770.8 631.1 777.8 628.3 L 779.2 622.8 M 777.8 628.3 L 784.7 635.3 L 783.3 647.8 L 775.0 653.3 L 776.4 661.7"/>
<path class="i" d="M 790.3 622.8 L 795.8 621.4 L 802.8 625.6 L 801.4 645.0 L 795.8 647.8 L 791.7 636.7 Z"/>
<path class="i" d="M 805.6 626.9 L 815.3 632.5 L 819.4 647.8 L 808.3 645.0 Z M 806.9 647.8 L 822.2 656.1 L 811.1 667.2 L 802.8 658.9"/>
<path class="i" d="M 769.4 660.3 L 781.9 658.9 L 786.1 667.2 L 784.7 676.0 M 795.8 653.3 L 805.6 658.9 L 802.8 670.0"/>
<path class="o" d="M 808.3 676.0 L 822.2 661.7 L 827.8 665.8"/>
<path class="o" d="M 754.2 625.6 L 737.5 661.7 L 716.7 726.0"/>
<path class="i" d="M 752.8 628.3 L 720.8 726.0"/>
<path class="k" d="M 757.6 626.2 Q 766.7 647.8 768.1 699.2"/>
<path class="i" d="M 755.6 626.9 Q 764.6 647.8 766.4 699.9"/>
<path class="k" d="M 754.2 625.6 L 746.5 654.7"/>
<path class="k" d="M 737.5 661.7 L 740.3 654.7 L 745.8 654.0 L 752.8 664.4 L 748.6 667.9 L 744.4 661.7 L 741.7 661.7 Z"/>
<path class="o" d="M 744.4 661.7 L 746.5 668.6 L 748.6 667.9 M 745.8 670.0 Q 750.0 672.8 748.6 678.3 L 741.7 689.4 L 736.1 697.8"/>
<path class="o" d="M 734.7 679.7 Q 738.9 675.6 741.7 679.7 L 736.1 686.7 Q 733.3 685.3 734.7 679.7"/>
<path class="o" d="M 731.9 725.6 Q 745.8 710.3 755.6 706.1 Q 766.7 700.6 783.3 692.2 L 802.8 681.1 L 811.1 683.9 L 819.4 685.3 L 827.8 682.5 Q 833.3 686.7 850.0 695.0"/>
<path class="i" d="M 734.7 722.8 Q 747.2 708.9 756.9 704.0 Q 768.1 698.5 783.3 690.1 L 802.8 679.0"/>
<path d="M 783.8 692.8 L 803.1 682.4" fill="none" stroke="#333" stroke-width="1.9"/>
<path class="k" d="M 787.5 682.5 L 794.4 679.0"/>
<path class="k" d="M 734.7 713.1 L 737.5 710.3 M 738.9 708.9 L 741.7 706.1 M 742.4 705.4 L 744.4 703.1"/>
<path class="k" d="M 806.9 647.8 L 825.0 656.1 Q 838.9 667.2 850.0 674.2"/>
<path class="o" d="M 805.6 678.3 L 820.8 661.7 L 831.9 678.3 L 827.8 682.5"/>
<path class="i" d="M 769.4 661.7 L 783.3 658.9 L 786.1 667.2 L 769.4 672.8 M 788.9 665.8 L 800.0 661.7 L 808.3 665.8 L 797.2 675.6 Z M 772.2 675.6 L 783.3 679.7 L 780.6 692.2"/>
<path class="i" d="M 769.4 647.8 L 783.3 645.0 L 797.2 650.6 L 806.9 647.8 L 802.8 633.9 M 777.8 628.3 L 783.3 645.0 M 790.3 625.6 L 797.2 650.6"/>
<path class="i" d="M 752.8 661.7 L 766.7 658.9 M 752.8 678.3 L 768.1 672.8 M 750.0 697.8 L 766.7 692.2 M 756.9 678.3 L 758.3 700.6 M 762.5 675.6 L 763.2 699.2"/>
<path class="j" d="M 808.3 665.8 L 819.4 660.3 M 811.1 670.0 L 822.2 664.4 M 813.9 675.6 L 825.0 670.0"/>
<path class="o" d="M 713.9 730.0 L 710.6 735.6 L 710.0 742.2 L 712.2 744.4 L 715.6 740.0 L 717.8 735.6 L 723.3 737.2 L 730.0 730.6 L 745.6 715.6 Q 756.7 704.4 767.8 700.0 L 782.2 694.4 L 790.0 691.1"/>
<path class="o" d="M 733.9 680.0 L 718.3 733.3"/>
<path d="M 729.1 729.9 L 745.9 714.9" fill="none" stroke="#333" stroke-width="1.9"/>
<path class="k" d="M 734.4 713.3 L 737.2 710.6 M 738.3 709.4 L 741.1 706.7 M 742.0 705.8 L 744.4 703.3"/>
<path class="k" d="M 766.7 680.0 L 767.2 700.0"/>
<path class="i" d="M 721.1 721.1 Q 723.3 718.9 724.4 722.2 L 722.2 728.9 L 720.0 732.2 M 726.7 718.9 L 728.9 713.3 L 736.7 702.2 L 738.9 691.1"/>
<path class="j" d="M 752.2 686.7 L 754.4 704.4 M 758.9 682.2 L 761.1 701.1 M 745.6 693.3 L 747.8 711.1"/>
<line class="ld" x1="518.6" y1="262.0" x2="518.6" y2="287.0"/>
<line class="ld" x1="785.4" y1="197.0" x2="785.4" y2="231.4"/>
<line class="ld" x1="480.1" y1="416.0" x2="480.1" y2="440.0"/>
<line class="ld" x1="681.8" y1="44.0" x2="681.8" y2="70.0"/>
<line class="ld" x1="220.6" y1="304.5" x2="220.6" y2="336.0"/>
<line class="ld" x1="775.0" y1="564.0" x2="775.0" y2="594.0"/>
<line class="ld" x1="402.2" y1="358.5" x2="402.2" y2="391.0"/>
<line class="ld" x1="711.6" y1="554.0" x2="711.6" y2="578.0"/>
<line class="ld" x1="261.4" y1="522.0" x2="261.4" y2="479.0"/>
<line class="ld" x1="606.6" y1="697.0" x2="606.6" y2="661.5"/>
<line class="ld" x1="301.0" y1="646.0" x2="308.0" y2="547.0"/>
<line class="ld" x1="308.7" y1="654.4" x2="451.0" y2="645.0"/>
<line class="ld" x1="285.5" y1="210.5" x2="285.5" y2="243.0"/>
<line class="ld" x1="800.5" y1="477.8" x2="800.5" y2="512.5"/>
<g class="tg"><circle class="lc" cx="518.6" cy="253.2" r="9.2"/><text x="518.6" y="258.2">1</text></g>
<g class="tg"><circle class="lc" cx="785.3" cy="188.0" r="9.2"/><text x="785.3" y="193.0">2</text></g>
<g class="tg"><circle class="lc" cx="480.1" cy="407.1" r="9.2"/><text x="480.1" y="412.1">3</text></g>
<g class="tg"><circle class="lc" cx="681.8" cy="34.8" r="9.2"/><text x="681.8" y="39.8">4</text></g>
<g class="tg"><circle class="lc" cx="220.5" cy="295.5" r="9.2"/><text x="220.5" y="300.5">5</text></g>
<g class="tg"><circle class="lc" cx="775.0" cy="554.8" r="9.2"/><text x="775.0" y="559.8">6</text></g>
<g class="tg"><circle class="lc" cx="402.2" cy="349.3" r="9.2"/><text x="402.2" y="354.3">7</text></g>
<g class="tg"><circle class="lc" cx="711.6" cy="545.0" r="9.2"/><text x="711.6" y="550.0">8</text></g>
<g class="tg"><circle class="lc" cx="261.3" cy="531.3" r="9.2"/><text x="261.3" y="536.3">9</text></g>
<g class="tg"><circle class="lc" cx="606.8" cy="706.4" r="9.2"/><text x="606.8" y="711.4">10</text></g>
<g class="tg"><circle class="lc" cx="299.6" cy="655.2" r="9.2"/><text x="299.6" y="660.2">11</text></g>
<g class="tg"><circle class="lc" cx="285.5" cy="201.2" r="9.2"/><text x="285.5" y="206.2">12</text></g>
<g class="tg"><circle class="lc" cx="800.5" cy="468.6" r="9.2"/><text x="800.5" y="473.6">12</text></g>
<path class="ds" style="stroke-dasharray:4.5 4" d="M286.5,250 L296.5,291"/>
<path class="ds" style="stroke-dasharray:3 3" d="M800.8,519 L811.2,576"/>
<path class="ds" d="M310.5,547 L318,558.5"/>
<path class="ds" d="M363,611.5 L389,600.5"/>
<path class="ds" d="M397,630 L423.5,619.5"/>
<path class="ds" d="M456.5,648.5 L472,658.5"/>
<circle cx="308.0" cy="543.8" r="2.3" fill="#333"/><circle cx="308.0" cy="543.8" r="0.8" fill="#999"/>
<circle cx="358.8" cy="613.3" r="2.3" fill="#333"/><circle cx="358.8" cy="613.3" r="0.8" fill="#999"/>
<circle cx="392.5" cy="631.8" r="2.3" fill="#333"/><circle cx="392.5" cy="631.8" r="0.8" fill="#999"/>
<circle cx="453.2" cy="644.6" r="2.3" fill="#333"/><circle cx="453.2" cy="644.6" r="0.8" fill="#999"/>
<path d="M279,248.2 L283,244.3 L286,244 L288.5,245.4 L289.3,247.2 L285.5,249.6 L282,250 Z" fill="#222"/><path d="M284.6,245.6 L287.4,246.6 L285.2,248 Z" fill="#fff"/>
<path d="M794.5,514.6 L803.6,511.6 L805.2,515.6 L796.8,519 Z" fill="#222"/>
<path class="i" d="M 763.6 623.6 L 773.0 621.2 L 780.0 628.3 L 778.9 635.3 L 770.6 633.0 L 767.1 628.3 Z"/>
<path class="i" d="M 775.3 622.4 L 790.6 620.0 L 795.4 623.6 L 794.2 635.3 L 787.1 638.9 L 781.2 635.3 Z"/>
<path class="i" d="M 790.6 621.2 L 803.6 620.0 L 806.0 623.6 L 803.6 644.8 L 795.4 645.9"/>
<path class="i" d="M 803.6 625.9 L 815.4 629.4 L 822.4 635.3 L 821.3 651.8 L 806.0 647.1"/>
<path class="i" d="M 806.0 630.6 L 816.6 638.9 M 805.4 635.3 L 817.7 644.8 M 806.0 640.0 L 821.3 650.6 M 810.7 628.3 L 821.3 637.7"/>
<path class="i" d="M 781.2 635.3 L 784.8 647.1 L 775.3 649.5 L 774.2 655.4 L 781.2 657.7 L 787.1 656.5"/>
<path class="i" d="M 787.1 638.9 L 789.5 647.1 L 801.2 644.8"/>
<path class="i" d="M 769.4 658.9 L 787.1 657.7 L 801.2 661.2 L 806.0 647.1"/>
<path class="i" d="M 769.4 658.9 L 770.6 689.9 M 781.2 660.1 L 782.4 689.9 M 787.1 666.0 L 785.9 689.9 M 775.3 661.2 L 776.5 689.9"/>
<path class="o" d="M 801.2 661.2 L 808.3 668.3 L 822.4 658.9 L 829.5 666.0 L 815.4 680.1 L 806.0 675.4 Z"/>
<path class="i" d="M 808.3 668.3 L 815.4 680.1 M 813.0 663.6 L 822.4 673.0 M 817.7 661.2 L 826.0 669.5 M 810.7 666.0 L 818.9 676.6"/>
<path class="o" d="M 754.1 673.0 Q 769.4 671.8 782.4 668.3"/>
<path class="i" d="M 755.3 676.6 Q 770.6 675.4 783.6 671.8"/>
<path class="i" d="M 760.0 630.6 Q 767.1 638.9 764.7 649.5 L 761.2 658.9 M 765.9 630.6 L 774.2 635.3 M 761.2 637.7 L 770.6 638.9"/>
<path class="i" d="M 794.2 635.3 L 801.2 638.9 L 801.2 644.8 M 795.4 623.6 L 803.6 625.9"/>
<path class="i" d="M 757.7 602.4 L 770.6 610.6 L 778.9 613.0 M 763.6 600.0 L 775.3 607.1 L 789.5 613.0 M 740.0 655.4 L 747.1 644.8 L 754.1 628.3"/>
<path class="i" d="M 789.5 607.1 L 796.5 613.0 L 810.7 621.2 M 822.4 611.8 L 829.5 623.6 L 840.0 629.4 M 824.8 637.7 L 840.0 644.8 M 827.2 628.3 L 840.0 635.3"/>
<path class="i" d="M 744.7 673.0 L 754.1 658.9 L 758.8 635.3 M 747.1 684.8 L 757.7 663.6 L 762.4 647.1 M 753.0 689.9 L 763.6 666.0"/>
<path class="i" d="M 791.8 668.3 L 801.2 673.0 L 798.9 682.4 M 806.0 682.4 L 813.0 684.8 L 822.4 682.4"/>
<path class="i" d="M 838.9 611.7 L 847.2 618.6 L 863.9 611.7 M 847.2 618.6 L 850.0 628.3 M 834.7 620.0 L 838.9 647.8 M 869.4 628.3 L 847.2 642.2 M 873.6 639.4 L 852.8 653.3 M 879.2 656.1 L 861.1 667.2"/>
<path class="i" d="M 855.6 592.2 L 850.0 597.8 L 858.3 611.7 M 866.7 606.1 L 861.1 610.3 M 841.7 586.7 L 838.9 595.0"/>
<path class="o" d="M 493.3 618.4 L 497.2 612.5 L 506.7 600.1 L 521.1 588.4 Q 533.4 583.4 546.7 577.8 L 566.7 566.7 L 611.2 542.2 L 646.8 522.2"/>
<path class="k" d="M 615.0 558.4 L 611.2 558.9 L 571.2 576.7 L 550.0 586.7 Q 544.5 588.9 537.8 598.4"/>
<path class="o" d="M 537.8 598.4 Q 546.7 595.6 550.0 586.7"/>
<path class="j" d="M 521.1 588.4 L 537.8 598.4 M 530.0 584.5 L 541.1 592.3 M 544.5 578.4 L 553.4 584.5 M 560.1 570.0 L 571.2 576.7"/>
<path class="o" d="M 569.0 577.8 L 567.8 603.4 Q 569.0 606.7 573.4 606.7 L 580.1 604.5 L 620.0 573.4 L 625.7 569.1"/>
<path class="j" d="M 582.3 573.4 L 582.3 602.3"/>
<path class="i" d="M 564.5 580.0 L 566.7 602.3 M 566.7 578.9 L 569.0 600.1"/>
<path class="i" d="M 548.9 595.6 L 566.7 602.3 M 544.5 598.9 L 566.7 605.6 L 571.2 606.7"/>
<path class="i" d="M 576.7 605.6 L 620.0 575.4"/>
</g>
</svg>
</body></html>
